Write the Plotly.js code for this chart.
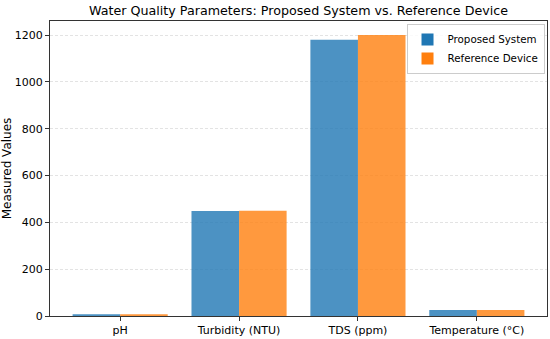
<!DOCTYPE html>
<html>
<head>
<meta charset="utf-8">
<script src="https://cdn.plot.ly/plotly-3.0.1.min.js"></script>
<style>html,body{margin:0;padding:0;background:#fff;}#chart{width:550px;height:339px;}</style>
</head>
<body>
<div id="chart"></div>
<script>
const categories = ["pH", "Turbidity (NTU)", "TDS (ppm)", "Temperature (°C)"];
const proposedValues = [7.1, 448, 1180, 25.5];
const referenceValues = [7.0, 450, 1200, 26];
const seriesNames = ["Proposed System", "Reference Device"];

const xIdx = categories.map((_, i) => i);
const traces = [
  {type: "bar", x: xIdx.map(i => i - 0.2), y: proposedValues, width: 0.4, name: seriesNames[0],
   marker: {color: "#1f77b4", opacity: 0.8}},
  {type: "bar", x: xIdx.map(i => i + 0.2), y: referenceValues, width: 0.4, name: seriesNames[1],
   marker: {color: "#ff7f0e", opacity: 0.8}}
];
const layout = {
  width: 550, height: 339,
  margin: {l: 50, r: 3, t: 21, b: 23},
  paper_bgcolor: "#fff", plot_bgcolor: "#fff",
  font: {family: "DejaVu Sans", size: 10, color: "#000"},
  title: {text: "Water Quality Parameters: Proposed System vs. Reference Device", font: {size: 12.7},
          xref: "paper", x: 0.5, xanchor: "center", yref: "container", y: 0.968, yanchor: "middle"},
  barmode: "overlay",
  showlegend: true,
  legend: {x: 0.995, y: 0.99, xanchor: "right", yanchor: "top", bgcolor: "rgba(255,255,255,0.8)", bordercolor: "#ccc", borderwidth: 1, font: {size: 10.3}, tracegroupgap: 0},
  xaxis: {range: [-0.59, 3.59], tickvals: xIdx, ticktext: categories, ticks: "outside", ticklen: 4, tickcolor: "#333",
          showline: true, linecolor: "#333", mirror: true, showgrid: false, zeroline: false, tickfont: {size: 11}},
  yaxis: {range: [0, 1260], tickvals: [0, 200, 400, 600, 800, 1000, 1200], ticks: "outside", ticklen: 4, tickcolor: "#333",
          showline: true, linecolor: "#333", mirror: true, showgrid: true, gridcolor: "#dcdcdc", griddash: "3px,2px", gridwidth: 0.8,
          zeroline: false, tickfont: {size: 11}, title: {text: "Measured Values", font: {size: 12}, standoff: 5}}
};
Plotly.newPlot("chart", traces, layout, {displayModeBar: false, staticPlot: true});
</script>
</body>
</html>
